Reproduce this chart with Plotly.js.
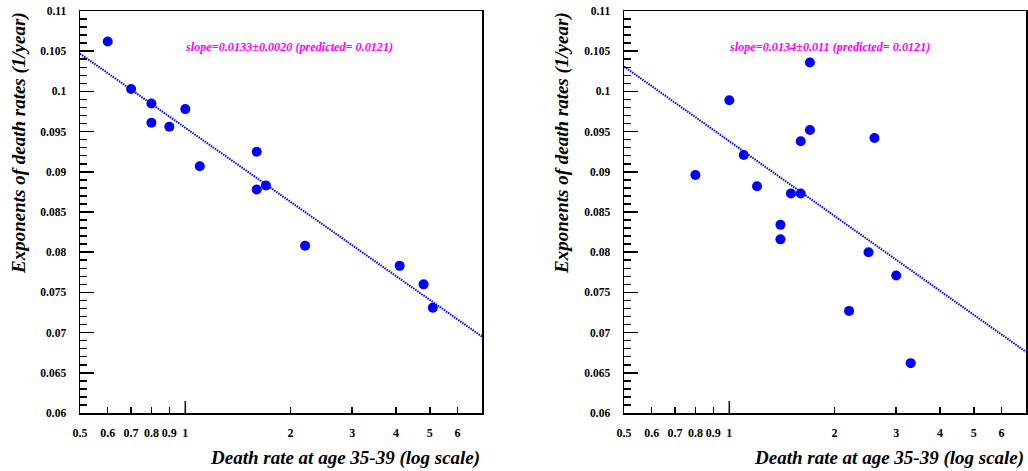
<!DOCTYPE html>
<html>
<head>
<meta charset="utf-8">
<script src="https://cdn.plot.ly/plotly-3.0.1.min.js"></script>
<style>html,body{margin:0;padding:0;background:#fff;}#chart{width:1028px;height:471px;}</style>
</head>
<body>
<div id="chart"></div>
<script>
// ---- data ----
const leftX  = [0.6, 0.7, 0.8, 0.8, 0.9, 1.0, 1.1, 1.6, 1.6, 1.7, 2.2, 4.1, 4.8, 5.1];
const leftY  = [0.1062, 0.1003, 0.0985, 0.0961, 0.0956, 0.0978, 0.0907, 0.0925, 0.0878, 0.0883, 0.0808, 0.0783, 0.0760, 0.0731];
const rightX = [0.8, 1.0, 1.1, 1.2, 1.4, 1.4, 1.5, 1.6, 1.6, 1.7, 1.7, 2.6, 2.2, 2.5, 3.0, 3.3];
const rightY = [0.0896, 0.0989, 0.0921, 0.0882, 0.0834, 0.0816, 0.0873, 0.0873, 0.0938, 0.0952, 0.1036, 0.0942, 0.0727, 0.0800, 0.0771, 0.0662];
const leftFitX  = [0.5, 7.05];
const leftFitY  = [0.1047, 0.0695];
const rightFitX = [0.5, 7.05];
const rightFitY = [0.1031, 0.0676];
const xTickVals = [0.5, 0.6, 0.7, 0.8, 0.9, 1, 2, 3, 4, 5, 6];
const xTickText = ["0.5", "0.6", "0.7", "0.8", "0.9", "1", "2", "3", "4", "5", "6"];
const yTickVals = [0.06, 0.065, 0.07, 0.075, 0.08, 0.085, 0.09, 0.095, 0.1, 0.105, 0.11];
const yTickText = ["0.06", "0.065", "0.07", "0.075", "0.08", "0.085", "0.09", "0.095", "0.1", "0.105", "0.11"];
const leftLabel  = "slope=0.0133±0.0020 (predicted= 0.0121)";
const rightLabel = "slope=0.0134±0.011 (predicted= 0.0121)";
const xTitle = "Death rate at age 35-39 (log scale)";
const yTitle = "Exponents of death rates (1/year)";

// ---- styling ----
const W = 1028, H = 471;
const SERIF = "'Liberation Serif', 'DejaVu Serif', serif";
const px = v => v / W;
const py = v => 1 - v / H;
const blue = "#0000ff";
const magenta = "#ff00ff";

function markers(x, y, xa, ya) {
  return {x, y, xaxis: xa, yaxis: ya, type: "scatter", mode: "markers",
    marker: {color: blue, size: 10, line: {width: 0}}, hoverinfo: "x+y", showlegend: false};
}
function fit(x, y, xa, ya) {
  return {x, y, xaxis: xa, yaxis: ya, type: "scatter", mode: "lines",
    line: {color: blue, width: 2, dash: "1.5px,1px"}, hoverinfo: "skip", showlegend: false};
}

const traces = [
  fit(leftFitX, leftFitY, "x", "y"),
  markers(leftX, leftY, "x", "y"),
  fit(rightFitX, rightFitY, "x2", "y2"),
  markers(rightX, rightY, "x2", "y2")
];

const xrange = [Math.log10(0.5), Math.log10(7.05)];
function xaxis(domain, anchor) {
  return {type: "log", range: xrange, domain, anchor,
    tickmode: "array", tickvals: xTickVals, ticktext: xTickText,
    ticks: "inside", ticklen: 6, tickwidth: 1.5, tickcolor: "#000",
    ticklabelstandoff: 8,
    showline: true, linewidth: 1.5, linecolor: "#000", mirror: true,
    showgrid: false, zeroline: false, fixedrange: true,
    tickfont: {family: SERIF, size: 12, color: "#000", weight: "bold"}};
}
function yaxis(anchor) {
  return {range: [0.06, 0.11], domain: [py(413), py(11)], anchor,
    tickmode: "array", tickvals: yTickVals, ticktext: yTickText,
    ticks: "inside", ticklen: 14, tickwidth: 1.5, tickcolor: "#000",
    ticklabelstandoff: 10,
    minor: {tickmode: "linear", tick0: 0.06, dtick: 0.001, ticks: "inside", ticklen: 7, tickwidth: 1.5, tickcolor: "#000", showgrid: false},
    showline: true, linewidth: 1.5, linecolor: "#000", mirror: true,
    showgrid: false, zeroline: false, fixedrange: true,
    tickfont: {family: SERIF, size: 11.5, color: "#000", weight: "bold"}};
}

const titleFont = {family: SERIF, size: 19, color: "#000", weight: "bold", style: "italic"};
const noteFont = {family: SERIF, size: 12.2, color: magenta, weight: "bold", style: "italic"};

const layout = {
  width: W, height: H,
  margin: {l: 0, r: 0, t: 0, b: 0},
  paper_bgcolor: "#fff", plot_bgcolor: "#fff",
  showlegend: false,
  font: {family: SERIF},
  xaxis: xaxis([px(80), px(482)], "y"),
  yaxis: yaxis("x"),
  xaxis2: xaxis([px(624), px(1026)], "y2"),
  yaxis2: yaxis("x2"),
  shapes: [
    {type: "line", xref: "x", yref: "y domain", x0: 1, x1: 1, y0: 0, y1: 12 / 402, line: {color: "#000", width: 1.5}},
    {type: "line", xref: "x2", yref: "y2 domain", x0: 1, x1: 1, y0: 0, y1: 12 / 402, line: {color: "#000", width: 1.5}}
  ],
  annotations: [
    {text: leftLabel, xref: "paper", yref: "paper", x: px(288.5), y: py(47), xanchor: "center", yanchor: "middle", showarrow: false, font: noteFont},
    {text: rightLabel, xref: "paper", yref: "paper", x: px(829.5), y: py(47), xanchor: "center", yanchor: "middle", showarrow: false, font: noteFont},
    {text: xTitle, xref: "paper", yref: "paper", x: px(482), y: py(458), xanchor: "right", yanchor: "middle", showarrow: false, font: titleFont},
    {text: xTitle, xref: "paper", yref: "paper", x: px(1026), y: py(458), xanchor: "right", yanchor: "middle", showarrow: false, font: titleFont},
    {text: yTitle, xref: "paper", yref: "paper", x: px(19), y: py(10), xanchor: "center", yanchor: "top", textangle: -90, showarrow: false, font: titleFont},
    {text: yTitle, xref: "paper", yref: "paper", x: px(562), y: py(10), xanchor: "center", yanchor: "top", textangle: -90, showarrow: false, font: titleFont}
  ]
};

Plotly.newPlot("chart", traces, layout, {staticPlot: true, displayModeBar: false});
</script>
</body>
</html>
